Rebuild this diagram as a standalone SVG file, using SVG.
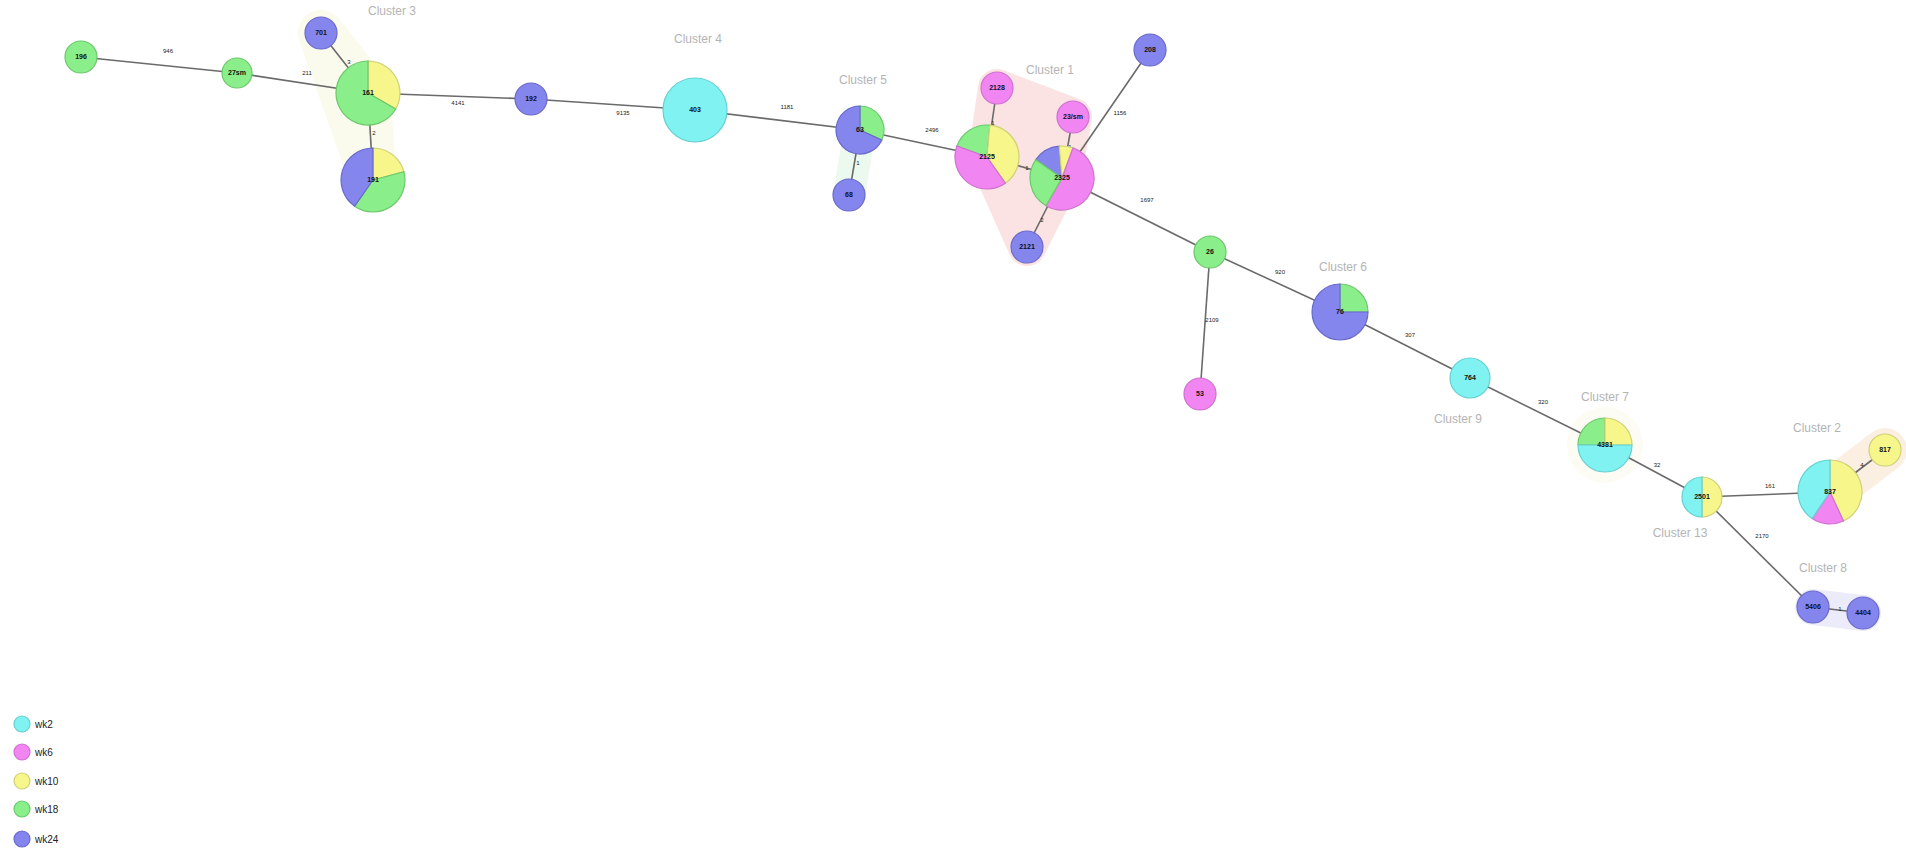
<svg xmlns="http://www.w3.org/2000/svg" width="1906" height="857" viewBox="0 0 1906 857">
<style>
.e{stroke:#6a6a6a;stroke-width:1.6;fill:none}
.el{font-family:"Liberation Sans",Arial,sans-serif;font-size:6px;fill:#222;text-anchor:middle}
.nl{font-family:"Liberation Sans",Arial,sans-serif;font-size:7px;font-weight:bold;fill:#111;text-anchor:middle;dominant-baseline:middle}
.cl{font-family:"Liberation Sans",Arial,sans-serif;font-size:12px;fill:#b4b4b4;text-anchor:middle}
.c{fill:#80f2f2;stroke:#66d0d0;stroke-width:1.2}
.p{fill:#f185f1;stroke:#d070d0;stroke-width:1.2}
.y{fill:#f6f68a;stroke:#d0d078;stroke-width:1.2}
.g{fill:#8aee8a;stroke:#6cc86c;stroke-width:1.2}
.b{fill:#8585ee;stroke:#6a6acc;stroke-width:1.2}
.hull{stroke-linejoin:round;stroke-linecap:round}
.lg{font-family:"Liberation Sans",Arial,sans-serif;font-size:10px;fill:#222}
</style>
<rect width="1906" height="857" fill="#ffffff"/>
<g id="hulls">
<polygon class="hull" points="321,33 368,93 373,180" fill="#f7f9e2" stroke="#f7f9e2" stroke-width="46" opacity="0.6"/>
<polyline class="hull" points="860,130 849,195" fill="none" stroke="#ddf5e4" stroke-width="32" opacity="0.6"/>
<polygon class="hull" points="997,88 1073,117 1062,178 1027,247 987,157" fill="#f9d8d6" stroke="#f9d8d6" stroke-width="38" opacity="0.7"/>
<circle cx="1605" cy="445" r="38" fill="#fafaec" opacity="0.6"/>
<polyline class="hull" points="1830,492 1885,450" fill="none" stroke="#fae8d6" stroke-width="44" opacity="0.7"/>
<polyline class="hull" points="1813,607 1863,613" fill="none" stroke="#e2e2f6" stroke-width="36" opacity="0.7"/>
</g>
<g id="connectors">
<line class="e" x1="81" y1="57" x2="237" y2="73"/>
<line class="e" x1="237" y1="73" x2="368" y2="93"/>
<line class="e" x1="321" y1="33" x2="368" y2="93"/>
<line class="e" x1="368" y1="93" x2="373" y2="180"/>
<line class="e" x1="368" y1="93" x2="531" y2="99"/>
<line class="e" x1="531" y1="99" x2="695" y2="110"/>
<line class="e" x1="695" y1="110" x2="860" y2="130"/>
<line class="e" x1="860" y1="130" x2="849" y2="195"/>
<line class="e" x1="860" y1="130" x2="987" y2="157"/>
<line class="e" x1="997" y1="88" x2="987" y2="157"/>
<line class="e" x1="987" y1="157" x2="1062" y2="178"/>
<line class="e" x1="1073" y1="117" x2="1062" y2="178"/>
<line class="e" x1="1150" y1="50" x2="1062" y2="178"/>
<line class="e" x1="1062" y1="178" x2="1027" y2="247"/>
<line class="e" x1="1062" y1="178" x2="1210" y2="252"/>
<line class="e" x1="1210" y1="252" x2="1200" y2="394"/>
<line class="e" x1="1210" y1="252" x2="1340" y2="312"/>
<line class="e" x1="1340" y1="312" x2="1470" y2="378"/>
<line class="e" x1="1470" y1="378" x2="1605" y2="445"/>
<line class="e" x1="1605" y1="445" x2="1702" y2="497"/>
<line class="e" x1="1702" y1="497" x2="1830" y2="492"/>
<line class="e" x1="1885" y1="450" x2="1830" y2="492"/>
<line class="e" x1="1702" y1="497" x2="1813" y2="607"/>
<line class="e" x1="1813" y1="607" x2="1863" y2="613"/>
<text class="el" x="168" y="53">946</text>
<text class="el" x="307" y="75">211</text>
<text class="el" x="349" y="64">3</text>
<text class="el" x="374" y="135">2</text>
<text class="el" x="458" y="105">4141</text>
<text class="el" x="623" y="115">9135</text>
<text class="el" x="787" y="109">1181</text>
<text class="el" x="858" y="165">1</text>
<text class="el" x="932" y="132">2496</text>
<text class="el" x="993" y="125">1</text>
<text class="el" x="1027" y="170">1</text>
<text class="el" x="1070" y="149">1</text>
<text class="el" x="1120" y="115">1156</text>
<text class="el" x="1042" y="222">2</text>
<text class="el" x="1147" y="202">1697</text>
<text class="el" x="1212" y="322">2109</text>
<text class="el" x="1280" y="274">920</text>
<text class="el" x="1410" y="337">307</text>
<text class="el" x="1543" y="404">320</text>
<text class="el" x="1657" y="467">32</text>
<text class="el" x="1770" y="488">161</text>
<text class="el" x="1862" y="467">4</text>
<text class="el" x="1762" y="538">2170</text>
<text class="el" x="1840" y="611">1</text>
</g>
<g id="n196"><circle class="g" cx="81" cy="57" r="16"/><text class="nl" x="81" y="57">196</text></g>
<g id="n27sm"><circle class="g" cx="237" cy="73" r="15"/><text class="nl" x="237" y="73">27sm</text></g>
<g id="n701"><circle class="b" cx="321" cy="33" r="16"/><text class="nl" x="321" y="33">701</text></g>
<g id="n161">
<path class="y" d="M368,93 L368,61 A32,32 0 0 1 395.71,109 Z"/>
<path class="g" d="M368,93 L395.71,109 A32,32 0 1 1 368,61 Z"/>
<text class="nl" x="368" y="93">161</text></g>
<g id="n191">
<path class="y" d="M373,180 L373,148 A32,32 0 0 1 403.91,171.72 Z"/>
<path class="g" d="M373,180 L403.91,171.72 A32,32 0 0 1 354.65,206.21 Z"/>
<path class="b" d="M373,180 L354.65,206.21 A32,32 0 0 1 373,148 Z"/>
<text class="nl" x="373" y="180">191</text></g>
<g id="n192"><circle class="b" cx="531" cy="99" r="16"/><text class="nl" x="531" y="99">192</text></g>
<g id="n403"><circle class="c" cx="695" cy="110" r="32"/><text class="nl" x="695" y="110">403</text></g>
<g id="n63">
<path class="g" d="M860,130 L860,106 A24,24 0 0 1 881.75,140.14 Z"/>
<path class="b" d="M860,130 L881.75,140.14 A24,24 0 1 1 860,106 Z"/>
<text class="nl" x="860" y="130">63</text></g>
<g id="n68"><circle class="b" cx="849" cy="195" r="16"/><text class="nl" x="849" y="195">68</text></g>
<g id="n2128"><circle class="p" cx="997" cy="88" r="16"/><text class="nl" x="997" y="88">2128</text></g>
<g id="n2125">
<path class="g" d="M987,157 L956.93,146.06 A32,32 0 0 1 989.79,125.12 Z"/>
<path class="y" d="M987,157 L989.79,125.12 A32,32 0 0 1 1005.35,183.21 Z"/>
<path class="p" d="M987,157 L1005.35,183.21 A32,32 0 0 1 956.93,146.06 Z"/>
<text class="nl" x="987" y="157">2125</text></g>
<g id="n23sm"><circle class="p" cx="1073" cy="117" r="16"/><text class="nl" x="1073" y="117">23/sm</text></g>
<g id="n2325">
<path class="b" d="M1062,178 L1035.79,159.65 A32,32 0 0 1 1059.21,146.12 Z"/>
<path class="y" d="M1062,178 L1059.21,146.12 A32,32 0 0 1 1072.94,147.93 Z"/>
<path class="p" d="M1062,178 L1072.94,147.93 A32,32 0 1 1 1046,205.71 Z"/>
<path class="g" d="M1062,178 L1046,205.71 A32,32 0 0 1 1035.79,159.65 Z"/>
<text class="nl" x="1062" y="178">2325</text></g>
<g id="n208"><circle class="b" cx="1150" cy="50" r="16"/><text class="nl" x="1150" y="50">208</text></g>
<g id="n2121"><circle class="b" cx="1027" cy="247" r="16"/><text class="nl" x="1027" y="247">2121</text></g>
<g id="n26"><circle class="g" cx="1210" cy="252" r="16"/><text class="nl" x="1210" y="252">26</text></g>
<g id="n53"><circle class="p" cx="1200" cy="394" r="16"/><text class="nl" x="1200" y="394">53</text></g>
<g id="n76">
<path class="g" d="M1340,312 L1340,284 A28,28 0 0 1 1368,312 Z"/>
<path class="b" d="M1340,312 L1368,312 A28,28 0 1 1 1340,284 Z"/>
<text class="nl" x="1340" y="312">76</text></g>
<g id="n764"><circle class="c" cx="1470" cy="378" r="20"/><text class="nl" x="1470" y="378">764</text></g>
<g id="n4381">
<path class="g" d="M1605,445 L1578,445 A27,27 0 0 1 1605,418 Z"/>
<path class="y" d="M1605,445 L1605,418 A27,27 0 0 1 1632,445 Z"/>
<path class="c" d="M1605,445 L1632,445 A27,27 0 0 1 1578,445 Z"/>
<text class="nl" x="1605" y="445">4381</text></g>
<g id="n2501">
<path class="y" d="M1702,497 L1702,477 A20,20 0 0 1 1702,517 Z"/>
<path class="c" d="M1702,497 L1702,517 A20,20 0 0 1 1702,477 Z"/>
<text class="nl" x="1702" y="497">2501</text></g>
<g id="n837">
<path class="y" d="M1830,492 L1830,460 A32,32 0 0 1 1843.52,521 Z"/>
<path class="p" d="M1830,492 L1843.52,521 A32,32 0 0 1 1812.11,518.53 Z"/>
<path class="c" d="M1830,492 L1812.11,518.53 A32,32 0 0 1 1830,460 Z"/>
<text class="nl" x="1830" y="492">837</text></g>
<g id="n817"><circle class="y" cx="1885" cy="450" r="16"/><text class="nl" x="1885" y="450">817</text></g>
<g id="n5406"><circle class="b" cx="1813" cy="607" r="16"/><text class="nl" x="1813" y="607">5406</text></g>
<g id="n4404"><circle class="b" cx="1863" cy="613" r="16"/><text class="nl" x="1863" y="613">4404</text></g>
<g id="cluster-labels">
<text class="cl" x="392" y="15">Cluster 3</text>
<text class="cl" x="698" y="43">Cluster 4</text>
<text class="cl" x="863" y="84">Cluster 5</text>
<text class="cl" x="1050" y="74">Cluster 1</text>
<text class="cl" x="1343" y="271">Cluster 6</text>
<text class="cl" x="1458" y="423">Cluster 9</text>
<text class="cl" x="1605" y="401">Cluster 7</text>
<text class="cl" x="1817" y="432">Cluster 2</text>
<text class="cl" x="1680" y="537">Cluster 13</text>
<text class="cl" x="1823" y="572">Cluster 8</text>
</g>
<g id="legend">
<circle class="c" cx="22" cy="724" r="8" stroke-width="2"/><text class="lg" x="35" y="728">wk2</text>
<circle class="p" cx="22" cy="752" r="8" stroke-width="2"/><text class="lg" x="35" y="756">wk6</text>
<circle class="y" cx="22" cy="781" r="8" stroke-width="2"/><text class="lg" x="35" y="785">wk10</text>
<circle class="g" cx="22" cy="809" r="8" stroke-width="2"/><text class="lg" x="35" y="813">wk18</text>
<circle class="b" cx="22" cy="839" r="8" stroke-width="2"/><text class="lg" x="35" y="843">wk24</text>
</g>
</svg>
